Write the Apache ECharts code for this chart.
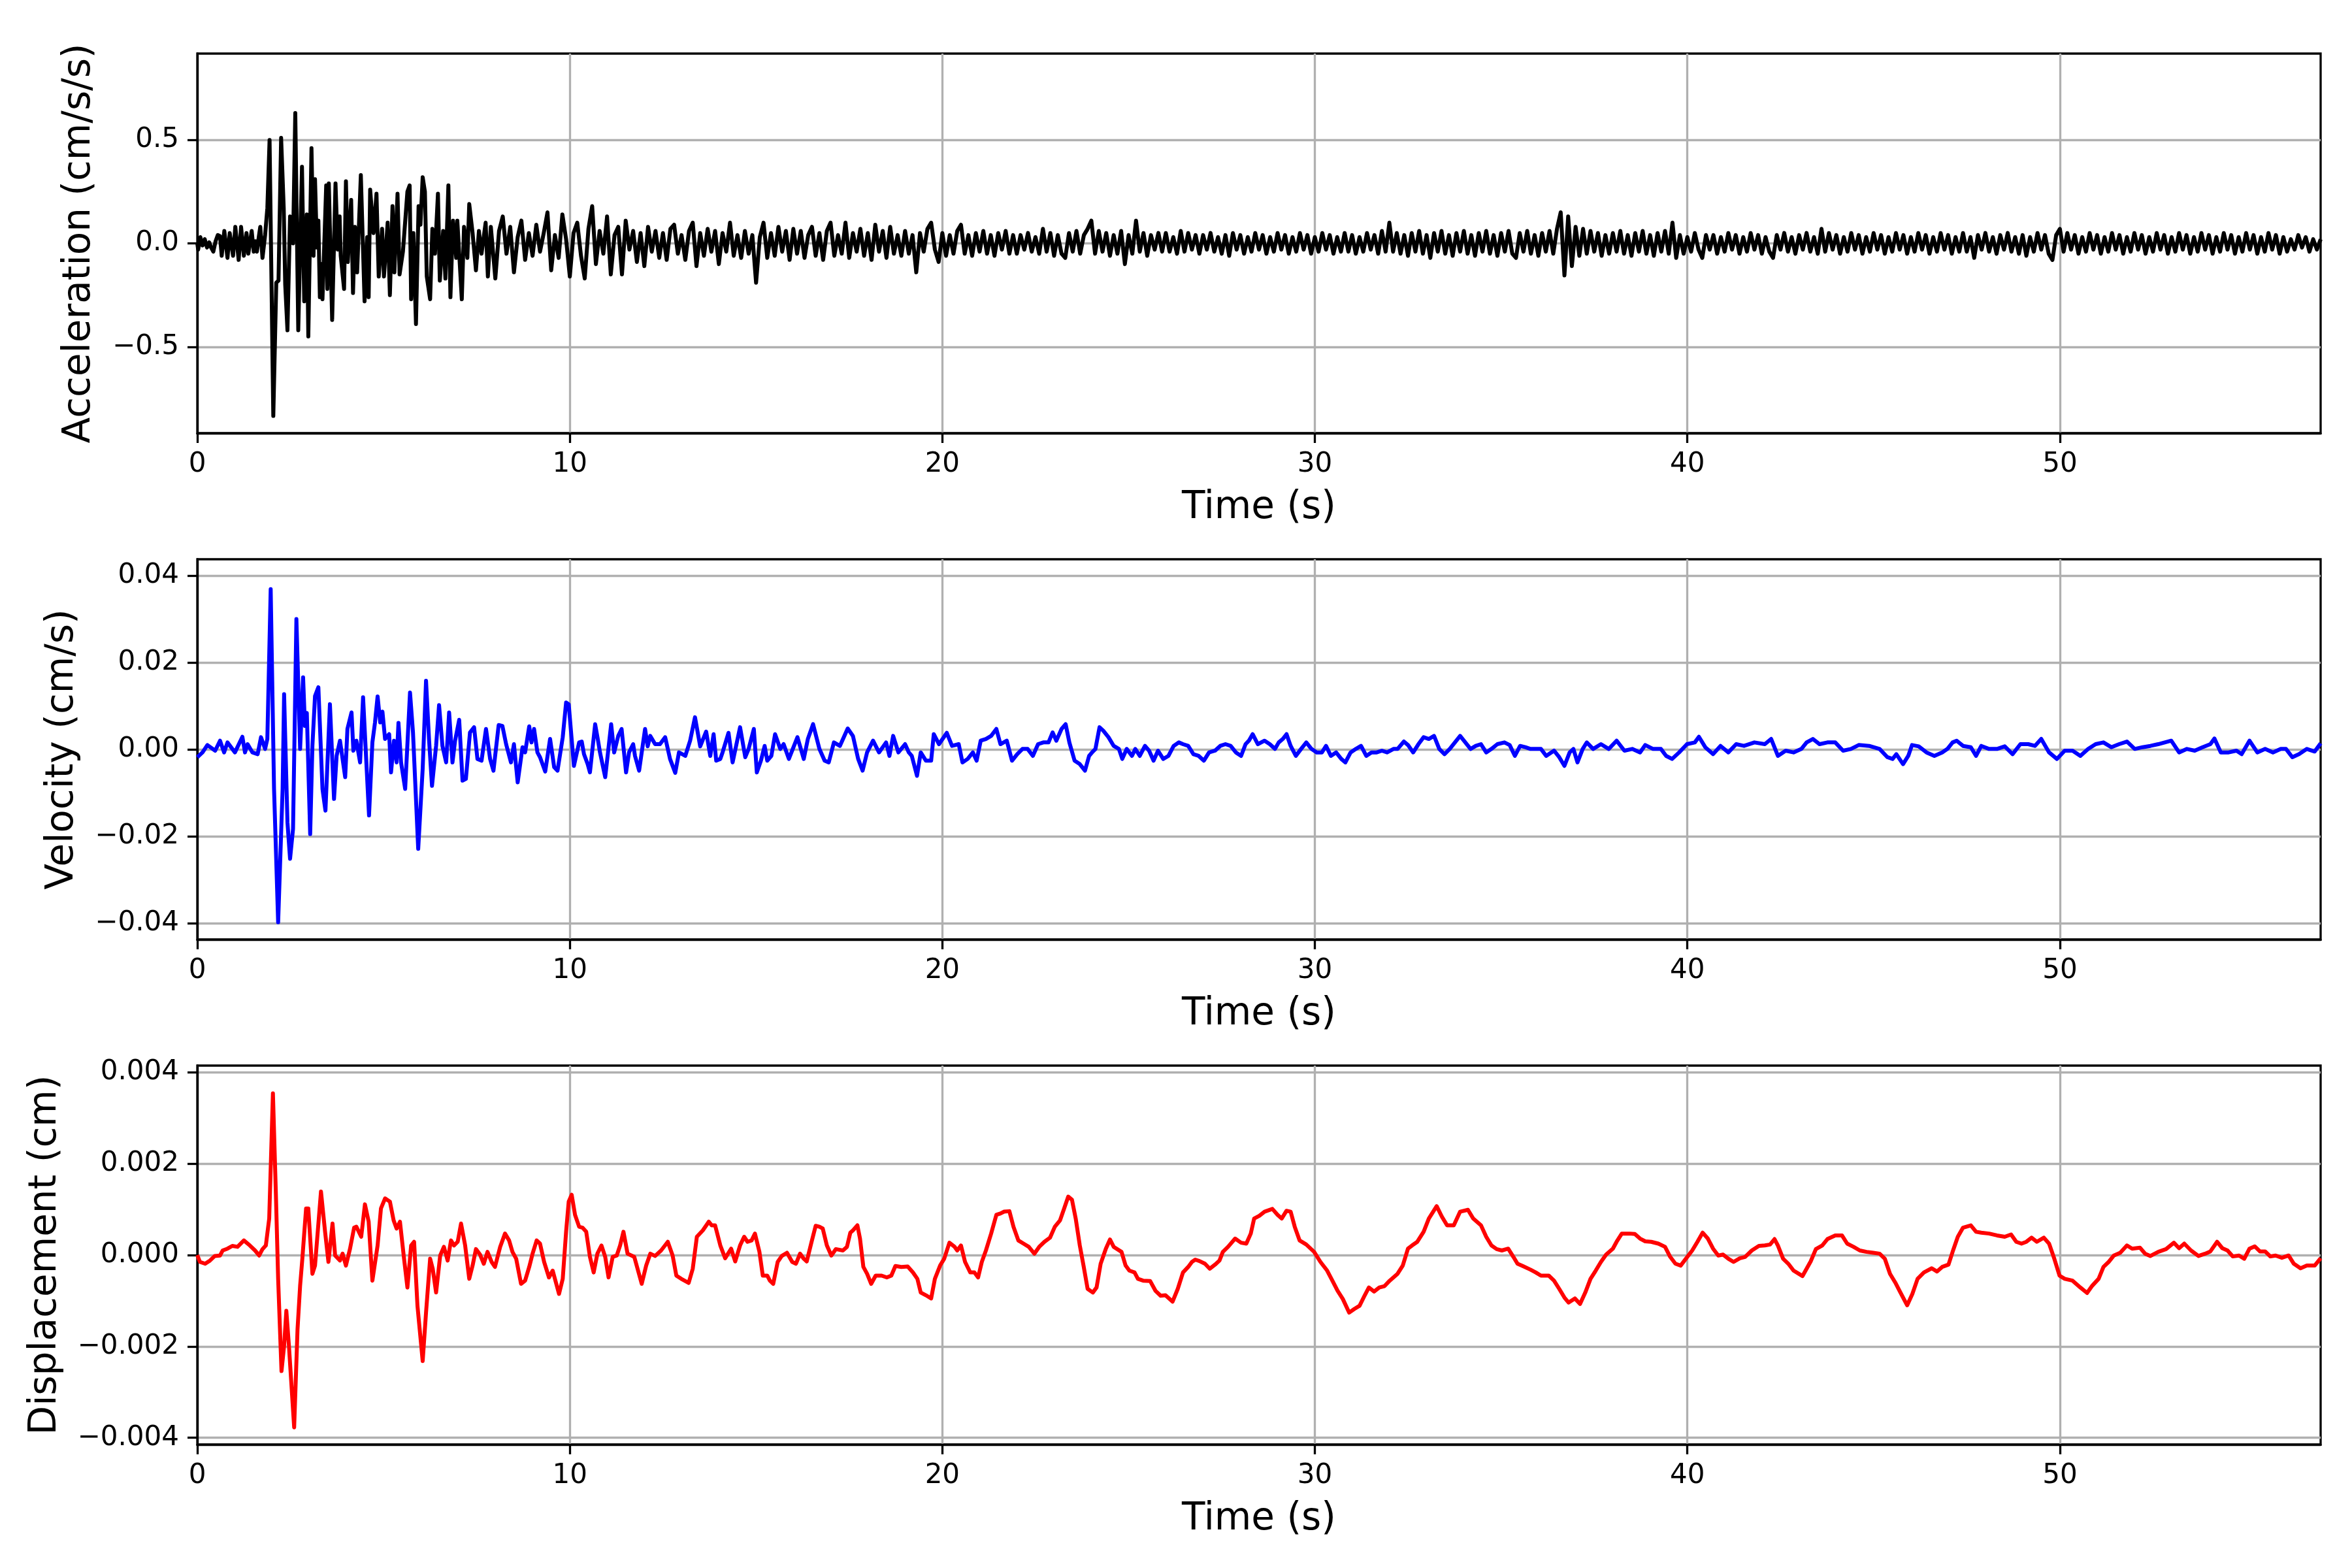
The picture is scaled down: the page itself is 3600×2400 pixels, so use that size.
<!DOCTYPE html>
<html><head><meta charset="utf-8">
<script src="https://cdn.jsdelivr.net/npm/echarts@6/dist/echarts.min.js"></script>
<style>html,body{margin:0;padding:0;background:#fff}#c{width:3600px;height:2400px}</style>
</head><body><div id="c"></div>
<script>
// ---------- tick labels ----------
const timeTicks = [0, 10, 20, 30, 40, 50];
const accelTicks = [-0.5, 0, 0.5];
const velTicks = [-0.04, -0.02, 0, 0.02, 0.04];
const dispTicks = [-0.004, -0.002, 0, 0.002, 0.004];

// ---------- acceleration (cm/s/s) ----------
// strong-motion part, [time s, value] read at the wiggle extremes
const accelEarly = [[0,0.0],[0.023,-0.03],[0.082,0.03],[0.14,-0.01],[0.20,0.02],[0.26,-0.02],[0.32,0.005],[0.37,-0.02],[0.43,-0.04],[0.49,0.01],[0.55,0.04],[0.61,0.035],[0.655,-0.06],[0.725,0.06],[0.81,-0.07],[0.87,0.05],[0.96,-0.06],[1.02,0.08],[1.11,-0.08],[1.175,0.08],[1.25,-0.06],[1.32,0.05],[1.37,-0.05],[1.46,0.06],[1.515,-0.04],[1.56,0.01],[1.60,-0.04],[1.65,0.03],[1.69,0.08],[1.75,-0.07],[1.82,0.04],[1.88,0.17],[1.94,0.50],[2.04,-0.834],[2.12,-0.19],[2.18,-0.18],[2.25,0.51],[2.32,0.17],[2.36,-0.20],[2.42,-0.42],[2.49,0.13],[2.57,0.0],[2.63,0.63],[2.71,-0.42],[2.81,0.37],[2.87,-0.28],[2.94,0.14],[2.98,-0.45],[3.065,0.46],[3.12,-0.06],[3.16,0.31],[3.21,-0.02],[3.25,0.11],[3.29,-0.26],[3.33,-0.10],[3.36,-0.27],[3.46,0.28],[3.49,-0.22],[3.53,0.29],[3.62,-0.37],[3.71,0.29],[3.77,-0.03],[3.82,0.13],[3.85,-0.06],[3.94,-0.22],[3.99,0.30],[4.04,-0.09],[4.13,0.21],[4.18,-0.24],[4.23,0.08],[4.29,-0.14],[4.39,0.33],[4.49,-0.28],[4.56,0.03],[4.60,-0.26],[4.64,0.26],[4.73,0.05],[4.81,0.24],[4.87,-0.16],[4.96,0.07],[5.01,-0.16],[5.11,0.10],[5.17,-0.25],[5.24,0.18],[5.29,-0.14],[5.375,0.24],[5.43,-0.15],[5.52,-0.04],[5.64,0.25],[5.70,0.28],[5.74,-0.27],[5.80,0.05],[5.87,-0.39],[5.94,0.18],[5.99,0.09],[6.05,0.32],[6.11,0.25],[6.16,-0.16],[6.25,-0.27],[6.31,0.07],[6.38,-0.05],[6.46,0.24],[6.51,-0.18],[6.60,0.06],[6.66,-0.17],[6.74,0.28],[6.795,-0.26],[6.865,0.11],[6.95,-0.07],[6.98,0.11],[7.10,-0.27],[7.16,0.08],[7.25,-0.07],[7.30,0.19],[7.39,0.05],[7.48,-0.13],[7.56,0.06],[7.63,-0.05],[7.74,0.10],[7.80,-0.16],[7.88,0.08]];
// coda, one value every 0.1 s from 8.0 s to 57.0 s
const accelTailStart = 8.0, accelTailStep = 0.1;
const accelTail = [
-0.17,0.06,0.13,-0.05,0.08,-0.14,0.03,0.11,-0.08,0.05,
-0.06,0.09,-0.04,0.05,0.15,-0.13,0.04,-0.07,0.14,0.02,
-0.16,0.05,0.10,-0.06,-0.17,0.07,0.18,-0.10,0.06,-0.05,
0.13,-0.15,0.04,0.08,-0.15,0.11,-0.03,0.06,-0.09,0.05,
-0.11,0.08,-0.04,0.06,-0.07,0.05,-0.08,0.07,0.09,-0.05,
0.04,-0.08,0.06,0.10,-0.11,0.05,-0.06,0.07,-0.04,0.06,
-0.10,0.05,-0.04,0.10,-0.06,0.04,-0.07,0.06,-0.05,0.04,
-0.19,0.03,0.10,-0.07,0.05,-0.06,0.08,-0.04,0.06,-0.08,
0.07,-0.05,0.06,-0.07,0.04,0.08,-0.06,0.05,-0.08,0.06,
0.10,-0.06,0.04,-0.05,0.10,-0.07,0.05,-0.04,0.07,-0.06,
0.05,-0.08,0.09,-0.04,0.06,-0.07,0.08,-0.05,0.04,-0.06,
0.06,-0.05,0.04,-0.14,0.05,-0.04,0.07,0.10,-0.03,-0.09,
0.05,-0.06,0.04,-0.05,0.06,0.09,-0.05,0.04,-0.06,0.05,
-0.04,0.06,-0.05,0.04,-0.06,0.05,-0.03,0.06,-0.05,0.04,
-0.05,0.04,-0.03,0.05,-0.04,0.03,-0.05,0.07,-0.04,0.05,
-0.06,0.04,-0.05,-0.07,0.05,-0.04,0.06,-0.05,0.04,0.07,
0.11,-0.05,0.06,-0.04,0.05,-0.06,0.04,-0.05,0.06,-0.10,
0.04,-0.05,0.11,-0.04,0.05,-0.06,0.04,-0.03,0.05,-0.04,
0.05,-0.04,0.03,-0.05,0.06,-0.04,0.05,-0.03,0.04,-0.05,
0.04,-0.03,0.05,-0.04,0.03,-0.05,0.04,-0.06,0.05,-0.03,
0.04,-0.05,0.03,-0.04,0.05,-0.03,0.04,-0.05,0.03,-0.04,
0.05,-0.03,0.04,-0.05,0.03,-0.04,0.05,-0.03,0.04,-0.05,
0.03,-0.04,0.05,-0.03,0.04,-0.05,0.03,-0.04,0.05,-0.04,
0.04,-0.05,0.03,-0.04,0.05,-0.03,0.04,-0.05,0.06,-0.04,
0.10,-0.04,0.05,-0.05,0.04,-0.06,0.05,-0.04,0.06,-0.05,
0.04,-0.07,0.05,-0.04,0.06,-0.05,0.04,-0.06,0.05,-0.04,
0.06,-0.05,0.04,-0.06,0.05,-0.04,0.06,-0.05,0.04,-0.06,
0.05,-0.04,0.06,-0.05,-0.07,0.05,-0.04,0.06,-0.05,0.04,
-0.06,0.05,-0.04,0.06,-0.05,0.07,0.15,-0.155,0.13,-0.11,
0.08,-0.06,0.07,-0.05,0.06,-0.04,0.05,-0.06,0.04,-0.05,
0.05,-0.04,0.06,-0.05,0.04,-0.06,0.05,-0.04,0.06,-0.05,
0.04,-0.06,0.05,-0.04,0.06,-0.05,0.10,-0.07,0.04,-0.05,
0.03,-0.04,0.05,-0.03,-0.07,0.04,-0.03,0.04,-0.05,0.03,
-0.04,0.05,-0.03,0.04,-0.05,0.03,-0.04,0.05,-0.03,0.04,
-0.05,0.03,-0.04,-0.07,0.04,-0.03,0.05,-0.04,0.03,-0.05,
0.04,-0.03,0.05,-0.04,0.03,-0.05,0.07,-0.04,0.05,-0.03,
0.04,-0.05,0.03,-0.04,0.05,-0.03,0.04,-0.05,0.03,-0.04,
0.05,-0.03,0.04,-0.05,0.03,-0.04,0.05,-0.03,0.04,-0.05,
0.03,-0.04,0.05,-0.03,0.04,-0.05,0.03,-0.04,0.05,-0.03,
0.04,-0.05,0.03,-0.04,0.05,-0.04,0.03,-0.07,0.04,-0.03,
0.05,-0.04,0.03,-0.05,0.04,-0.03,0.05,-0.04,0.03,-0.05,
0.04,-0.06,0.03,-0.04,0.05,-0.03,0.04,-0.05,-0.08,0.04,
0.07,-0.04,0.05,-0.03,0.04,-0.05,0.03,-0.04,0.05,-0.03,
0.04,-0.05,0.03,-0.04,0.05,-0.03,0.04,-0.05,0.03,-0.04,
0.05,-0.03,0.04,-0.05,0.03,-0.04,0.05,-0.03,0.04,-0.05,
0.03,-0.04,0.05,-0.03,0.04,-0.05,0.03,-0.04,0.05,-0.03,
0.04,-0.05,0.03,-0.04,0.05,-0.03,0.04,-0.05,0.03,-0.04,
0.05,-0.03,0.04,-0.05,0.03,-0.04,0.05,-0.03,0.04,-0.05,
0.03,-0.04,0.02,-0.03,0.04,-0.02,0.03,-0.04,0.02,-0.03,
0.02];

// ---------- velocity (cm/s), [time s, value] ----------
const velocity = [[0,-0.0018],[0.14,-0.0007],[0.27,0.0010],[0.48,-0.0003],[0.61,0.0020],[0.72,-0.0007],[0.81,0.0016],[1.01,-0.0007],[1.21,0.0029],[1.28,-0.0007],[1.35,0.0012],[1.48,-0.0007],[1.62,-0.0011],[1.71,0.0028],[1.82,0.0001],[1.88,0.0024],[1.97,0.0369],[2.06,-0.0091],[2.17,-0.0398],[2.29,-0.0091],[2.33,0.0127],[2.42,-0.0168],[2.49,-0.0252],[2.57,-0.0183],[2.66,0.0300],[2.76,0.0001],[2.84,0.0166],[2.89,0.0054],[2.94,0.0084],[3.03,-0.0195],[3.09,0.0008],[3.16,0.0123],[3.25,0.0143],[3.36,-0.0091],[3.44,-0.0141],[3.56,0.0104],[3.67,-0.0114],[3.74,-0.0015],[3.83,0.0020],[3.97,-0.0064],[4.03,0.0047],[4.14,0.0085],[4.19,-0.0003],[4.27,0.0020],[4.37,-0.0030],[4.45,0.0120],[4.61,-0.0152],[4.70,0.0016],[4.77,0.0062],[4.84,0.0122],[4.91,0.0062],[4.97,0.0087],[5.04,0.0024],[5.15,0.0035],[5.20,-0.0053],[5.28,0.0020],[5.35,-0.0030],[5.40,0.0061],[5.47,-0.0030],[5.58,-0.0091],[5.71,0.0131],[5.79,0.0039],[5.93,-0.0229],[6.05,-0.0045],[6.14,0.0158],[6.22,0.0024],[6.30,-0.0084],[6.41,0.0008],[6.49,0.0102],[6.58,0.0008],[6.68,-0.0030],[6.76,0.0085],[6.85,-0.0030],[6.92,0.0020],[7.03,0.0068],[7.12,-0.0072],[7.21,-0.0068],[7.32,0.0039],[7.43,0.0051],[7.52,-0.0022],[7.63,-0.0026],[7.75,0.0047],[7.86,-0.0022],[7.95,-0.0049],[8.09,0.0056],[8.19,0.0054],[8.29,0.0012],[8.42,-0.0030],[8.50,0.0012],[8.60,-0.0076],[8.73,0.0005],[8.80,-0.0007],[8.91,0.0053],[8.97,0.0016],[9.04,0.0047],[9.13,-0.0007],[9.20,-0.0018],[9.34,-0.0051],[9.47,0.0024],[9.58,-0.0041],[9.67,-0.0049],[9.81,0.0028],[9.90,0.0108],[9.97,0.0104],[10.11,-0.0038],[10.25,0.0016],[10.32,0.0018],[10.38,-0.0011],[10.48,-0.0034],[10.54,-0.0053],[10.68,0.0058],[10.75,0.0024],[10.81,-0.0007],[10.95,-0.0064],[11.11,0.0058],[11.19,-0.0007],[11.30,0.0031],[11.39,0.0047],[11.51,-0.0053],[11.59,-0.0007],[11.70,0.0012],[11.75,-0.0015],[11.86,-0.0049],[12.02,0.0047],[12.09,0.0007],[12.16,0.0031],[12.29,0.0012],[12.42,0.0012],[12.56,0.0028],[12.69,-0.0022],[12.83,-0.0054],[12.93,-0.0007],[13.10,-0.0015],[13.23,0.0020],[13.36,0.0074],[13.50,0.0007],[13.66,0.0041],[13.77,-0.0015],[13.86,0.0035],[13.93,-0.0026],[14.04,-0.0022],[14.10,-0.0007],[14.26,0.0038],[14.37,-0.0030],[14.57,0.0051],[14.71,-0.0018],[14.80,0.0001],[14.94,0.0047],[15.02,-0.0053],[15.13,-0.0026],[15.23,0.0008],[15.30,-0.0026],[15.41,-0.0015],[15.51,0.0035],[15.65,0.0001],[15.74,0.0012],[15.88,-0.0022],[16.11,0.0028],[16.28,-0.0022],[16.39,0.0024],[16.53,0.0058],[16.70,0.0001],[16.84,-0.0026],[16.95,-0.0030],[17.09,0.0016],[17.25,0.0008],[17.46,0.0048],[17.60,0.0031],[17.74,-0.0022],[17.86,-0.0049],[17.98,-0.0007],[18.14,0.0020],[18.30,-0.0007],[18.49,0.0016],[18.58,-0.0015],[18.68,0.0031],[18.82,-0.0007],[19.00,0.0012],[19.10,-0.0007],[19.18,-0.0015],[19.32,-0.0061],[19.42,-0.0007],[19.56,-0.0026],[19.70,-0.0026],[19.77,0.0035],[19.91,0.0012],[20.12,0.0038],[20.26,0.0008],[20.44,0.0012],[20.54,-0.0030],[20.68,-0.0022],[20.82,-0.0007],[20.92,-0.0026],[21.03,0.0020],[21.17,0.0024],[21.31,0.0031],[21.45,0.0047],[21.56,0.0012],[21.73,0.0020],[21.87,-0.0026],[22.01,-0.0011],[22.15,0.0001],[22.29,0.0001],[22.43,-0.0015],[22.57,0.0012],[22.71,0.0016],[22.85,0.0016],[22.96,0.0039],[23.06,0.0020],[23.20,0.0047],[23.31,0.0058],[23.41,0.0016],[23.55,-0.0026],[23.69,-0.0034],[23.83,-0.0049],[23.94,-0.0015],[24.04,-0.0005],[24.11,0.0001],[24.22,0.0051],[24.32,0.0043],[24.46,0.0028],[24.60,0.0008],[24.74,0.0001],[24.83,-0.0022],[24.95,0.0001],[25.09,-0.0015],[25.18,0.0001],[25.30,-0.0015],[25.44,0.0008],[25.55,-0.0003],[25.67,-0.0026],[25.79,-0.0003],[25.93,-0.0022],[26.07,-0.0015],[26.21,0.0008],[26.35,0.0016],[26.46,0.0012],[26.60,0.0008],[26.74,-0.0011],[26.88,-0.0015],[27.02,-0.0026],[27.16,-0.0007],[27.32,-0.0003],[27.46,0.0008],[27.60,0.0012],[27.74,0.0008],[27.88,-0.0007],[28.02,-0.0015],[28.14,0.0012],[28.23,0.0020],[28.33,0.0035],[28.47,0.0012],[28.65,0.0020],[28.79,0.0012],[28.93,0.0001],[29.03,0.0016],[29.14,0.0024],[29.24,0.0035],[29.35,0.0008],[29.49,-0.0015],[29.63,0.0001],[29.77,0.0016],[29.91,0.0001],[30.05,-0.0007],[30.19,-0.0007],[30.30,0.0008],[30.43,-0.0015],[30.57,-0.0007],[30.71,-0.0022],[30.82,-0.0030],[30.96,-0.0007],[31.10,0.0001],[31.24,0.0008],[31.38,-0.0015],[31.52,-0.0007],[31.66,-0.0007],[31.80,-0.0003],[31.94,-0.0007],[32.11,0.0001],[32.22,0.0001],[32.39,0.0018],[32.50,0.0010],[32.64,-0.0007],[32.78,0.0012],[32.92,0.0028],[33.06,0.0024],[33.20,0.0031],[33.34,0.0001],[33.48,-0.0011],[33.62,0.0001],[33.76,0.0016],[33.90,0.0031],[34.04,0.0016],[34.18,0.0001],[34.32,0.0008],[34.46,0.0012],[34.60,-0.0007],[34.74,0.0001],[34.90,0.0012],[35.09,0.0016],[35.23,0.0010],[35.37,-0.0015],[35.51,0.0008],[35.65,0.0005],[35.79,0.0001],[35.93,0.0001],[36.07,0.0001],[36.21,-0.0015],[36.42,-0.0003],[36.56,-0.0018],[36.70,-0.0038],[36.84,-0.0007],[36.94,0.0001],[37.05,-0.0030],[37.19,0.0001],[37.30,0.0016],[37.47,0.0001],[37.68,0.0012],[37.89,0.0001],[38.10,0.0020],[38.31,-0.0003],[38.52,0.0001],[38.73,-0.0007],[38.87,0.0010],[39.08,0.0001],[39.29,0.0001],[39.43,-0.0015],[39.59,-0.0022],[39.78,-0.0007],[39.99,0.0012],[40.20,0.0016],[40.31,0.0029],[40.48,0.0005],[40.69,-0.0011],[40.89,0.0008],[41.10,-0.0007],[41.31,0.0012],[41.52,0.0008],[41.80,0.0016],[42.08,0.0012],[42.25,0.0024],[42.43,-0.0015],[42.64,-0.0003],[42.85,-0.0007],[43.06,0.0001],[43.20,0.0016],[43.37,0.0024],[43.55,0.0012],[43.76,0.0016],[43.97,0.0016],[44.18,-0.0003],[44.39,0.0001],[44.60,0.0010],[44.88,0.0008],[45.16,0.0001],[45.37,-0.0018],[45.51,-0.0022],[45.61,-0.0011],[45.79,-0.0034],[45.93,-0.0015],[46.03,0.0010],[46.21,0.0007],[46.42,-0.0007],[46.63,-0.0015],[46.84,-0.0007],[46.98,0.0001],[47.12,0.0016],[47.23,0.0020],[47.40,0.0008],[47.61,0.0005],[47.75,-0.0015],[47.89,0.0008],[48.10,0.0001],[48.31,0.0001],[48.52,0.0007],[48.73,-0.0011],[48.94,0.0012],[49.15,0.0012],[49.33,0.0008],[49.50,0.0024],[49.71,-0.0007],[49.92,-0.0022],[50.13,-0.0003],[50.34,-0.0003],[50.55,-0.0015],[50.76,0.0001],[50.96,0.0012],[51.17,0.0016],[51.38,0.0005],[51.59,0.0012],[51.80,0.0018],[52.01,0.0001],[52.22,0.0005],[52.43,0.0008],[52.64,0.0012],[52.99,0.0020],[53.20,-0.0007],[53.41,0.0001],[53.62,-0.0003],[53.83,0.0005],[54.04,0.0012],[54.15,0.0025],[54.32,-0.0007],[54.53,-0.0007],[54.74,-0.0003],[54.88,-0.0011],[55.09,0.0020],[55.30,-0.0007],[55.51,0.0001],[55.72,-0.0007],[55.93,0.0001],[56.07,0.0001],[56.24,-0.0018],[56.42,-0.0011],[56.63,0.0001],[56.84,-0.0005],[57.0,0.0014]];

// ---------- displacement (cm), [time s, value] ----------
const displacement = [[0,0],[0.07,-0.15e-3],[0.21,-0.19e-3],[0.34,-0.12e-3],[0.47,-0.02e-3],[0.61,-0.01e-3],[0.68,0.10e-3],[0.81,0.14e-3],[0.94,0.20e-3],[1.08,0.18e-3],[1.25,0.32e-3],[1.41,0.21e-3],[1.55,0.10e-3],[1.66,-0.01e-3],[1.75,0.13e-3],[1.84,0.21e-3],[1.93,0.80e-3],[2.03,3.54e-3],[2.11,1.32e-3],[2.17,-0.52e-3],[2.26,-2.54e-3],[2.33,-1.99e-3],[2.39,-1.22e-3],[2.46,-1.99e-3],[2.60,-3.77e-3],[2.69,-1.63e-3],[2.76,-0.67e-3],[2.82,-0.08e-3],[2.92,1.02e-3],[2.98,1.02e-3],[3.09,-0.41e-3],[3.16,-0.23e-3],[3.32,1.39e-3],[3.43,0.51e-3],[3.52,-0.15e-3],[3.63,0.69e-3],[3.70,-0.01e-3],[3.83,-0.12e-3],[3.90,0.03e-3],[3.99,-0.23e-3],[4.10,0.14e-3],[4.21,0.60e-3],[4.27,0.62e-3],[4.40,0.40e-3],[4.50,1.11e-3],[4.60,0.73e-3],[4.70,-0.56e-3],[4.84,0.21e-3],[4.93,1.02e-3],[5.04,1.24e-3],[5.17,1.17e-3],[5.27,0.76e-3],[5.35,0.58e-3],[5.44,0.73e-3],[5.55,-0.08e-3],[5.64,-0.71e-3],[5.74,0.21e-3],[5.82,0.29e-3],[5.91,-1.11e-3],[6.05,-2.32e-3],[6.14,-1.26e-3],[6.25,-0.08e-3],[6.32,-0.30e-3],[6.41,-0.82e-3],[6.52,-0.01e-3],[6.62,0.18e-3],[6.72,-0.12e-3],[6.81,0.32e-3],[6.89,0.21e-3],[6.99,0.29e-3],[7.08,0.69e-3],[7.19,0.21e-3],[7.30,-0.52e-3],[7.39,-0.23e-3],[7.48,0.13e-3],[7.59,0.01e-3],[7.69,-0.19e-3],[7.79,0.07e-3],[7.90,-0.15e-3],[7.99,-0.26e-3],[8.13,0.18e-3],[8.26,0.47e-3],[8.37,0.32e-3],[8.46,0.07e-3],[8.56,-0.08e-3],[8.69,-0.63e-3],[8.80,-0.56e-3],[8.91,-0.26e-3],[9.00,0.03e-3],[9.11,0.32e-3],[9.20,0.25e-3],[9.31,-0.15e-3],[9.44,-0.49e-3],[9.54,-0.34e-3],[9.71,-0.85e-3],[9.81,-0.52e-3],[9.90,0.51e-3],[9.97,1.17e-3],[10.05,1.32e-3],[10.14,0.88e-3],[10.25,0.62e-3],[10.34,0.60e-3],[10.44,0.51e-3],[10.54,-0.04e-3],[10.64,-0.38e-3],[10.74,0.03e-3],[10.85,0.21e-3],[10.95,-0.04e-3],[11.04,-0.49e-3],[11.15,-0.04e-3],[11.26,-0.01e-3],[11.35,0.21e-3],[11.44,0.51e-3],[11.55,0.03e-3],[11.73,-0.04e-3],[11.93,-0.63e-3],[12.05,-0.23e-3],[12.16,0.03e-3],[12.29,-0.02e-3],[12.45,0.10e-3],[12.63,0.29e-3],[12.76,-0.01e-3],[12.86,-0.45e-3],[12.99,-0.52e-3],[13.19,-0.61e-3],[13.30,-0.30e-3],[13.41,0.40e-3],[13.57,0.54e-3],[13.73,0.73e-3],[13.81,0.65e-3],[13.90,0.65e-3],[14.04,0.21e-3],[14.17,-0.07e-3],[14.33,0.14e-3],[14.44,-0.14e-3],[14.57,0.21e-3],[14.68,0.40e-3],[14.77,0.29e-3],[14.88,0.32e-3],[14.97,0.47e-3],[15.09,0.07e-3],[15.18,-0.45e-3],[15.30,-0.45e-3],[15.37,-0.56e-3],[15.46,-0.63e-3],[15.58,-0.15e-3],[15.69,-0.02e-3],[15.83,0.05e-3],[15.97,-0.15e-3],[16.07,-0.19e-3],[16.18,0.03e-3],[16.28,-0.08e-3],[16.36,-0.14e-3],[16.49,0.29e-3],[16.60,0.64e-3],[16.70,0.62e-3],[16.79,0.58e-3],[16.90,0.21e-3],[17.02,-0.01e-3],[17.14,0.13e-3],[17.33,0.10e-3],[17.44,0.18e-3],[17.53,0.49e-3],[17.60,0.54e-3],[17.72,0.65e-3],[17.79,0.36e-3],[17.88,-0.26e-3],[17.98,-0.41e-3],[18.09,-0.63e-3],[18.21,-0.45e-3],[18.37,-0.45e-3],[18.51,-0.49e-3],[18.63,-0.45e-3],[18.74,-0.24e-3],[18.90,-0.26e-3],[19.07,-0.25e-3],[19.21,-0.38e-3],[19.33,-0.52e-3],[19.42,-0.82e-3],[19.56,-0.88e-3],[19.70,-0.95e-3],[19.80,-0.52e-3],[19.94,-0.23e-3],[20.05,-0.08e-3],[20.19,0.27e-3],[20.33,0.18e-3],[20.40,0.10e-3],[20.50,0.21e-3],[20.61,-0.15e-3],[20.75,-0.38e-3],[20.86,-0.38e-3],[20.96,-0.49e-3],[21.06,-0.15e-3],[21.17,0.10e-3],[21.31,0.47e-3],[21.45,0.88e-3],[21.56,0.91e-3],[21.66,0.95e-3],[21.80,0.96e-3],[21.91,0.62e-3],[22.04,0.32e-3],[22.18,0.25e-3],[22.32,0.18e-3],[22.47,0.03e-3],[22.60,0.18e-3],[22.74,0.29e-3],[22.89,0.38e-3],[23.02,0.62e-3],[23.16,0.76e-3],[23.27,1.02e-3],[23.38,1.28e-3],[23.48,1.21e-3],[23.58,0.80e-3],[23.69,0.21e-3],[23.79,-0.23e-3],[23.90,-0.74e-3],[24.04,-0.82e-3],[24.14,-0.71e-3],[24.25,-0.19e-3],[24.39,0.14e-3],[24.50,0.34e-3],[24.60,0.18e-3],[24.81,0.07e-3],[24.92,-0.23e-3],[25.02,-0.34e-3],[25.16,-0.38e-3],[25.25,-0.52e-3],[25.39,-0.56e-3],[25.58,-0.57e-3],[25.72,-0.78e-3],[25.86,-0.89e-3],[25.99,-0.88e-3],[26.18,-1.02e-3],[26.32,-0.74e-3],[26.46,-0.38e-3],[26.60,-0.26e-3],[26.70,-0.15e-3],[26.79,-0.10e-3],[26.90,-0.13e-3],[27.05,-0.19e-3],[27.18,-0.30e-3],[27.32,-0.21e-3],[27.44,-0.12e-3],[27.53,0.07e-3],[27.67,0.18e-3],[27.86,0.36e-3],[28.02,0.27e-3],[28.16,0.25e-3],[28.28,0.47e-3],[28.37,0.80e-3],[28.51,0.86e-3],[28.65,0.95e-3],[28.86,1.01e-3],[29.00,0.88e-3],[29.11,0.80e-3],[29.24,0.97e-3],[29.35,0.95e-3],[29.46,0.62e-3],[29.59,0.32e-3],[29.77,0.23e-3],[29.98,0.07e-3],[30.15,-0.15e-3],[30.33,-0.34e-3],[30.47,-0.56e-3],[30.61,-0.78e-3],[30.75,-0.96e-3],[30.92,-1.26e-3],[31.06,-1.18e-3],[31.20,-1.11e-3],[31.34,-0.88e-3],[31.45,-0.71e-3],[31.59,-0.80e-3],[31.73,-0.71e-3],[31.87,-0.68e-3],[32.01,-0.56e-3],[32.22,-0.41e-3],[32.36,-0.23e-3],[32.50,0.14e-3],[32.61,0.21e-3],[32.75,0.29e-3],[32.92,0.51e-3],[33.06,0.80e-3],[33.27,1.07e-3],[33.41,0.84e-3],[33.55,0.65e-3],[33.73,0.65e-3],[33.90,0.95e-3],[34.11,0.99e-3],[34.25,0.80e-3],[34.46,0.65e-3],[34.60,0.40e-3],[34.74,0.21e-3],[34.88,0.13e-3],[35.02,0.10e-3],[35.19,0.14e-3],[35.33,-0.04e-3],[35.44,-0.19e-3],[35.58,-0.24e-3],[35.79,-0.32e-3],[35.93,-0.38e-3],[36.07,-0.45e-3],[36.28,-0.45e-3],[36.42,-0.56e-3],[36.56,-0.74e-3],[36.70,-0.93e-3],[36.81,-1.04e-3],[36.98,-0.95e-3],[37.12,-1.07e-3],[37.26,-0.82e-3],[37.40,-0.52e-3],[37.54,-0.34e-3],[37.68,-0.15e-3],[37.82,0.01e-3],[38.00,0.14e-3],[38.10,0.29e-3],[38.24,0.47e-3],[38.45,0.47e-3],[38.59,0.46e-3],[38.73,0.36e-3],[38.87,0.30e-3],[39.03,0.29e-3],[39.22,0.25e-3],[39.40,0.18e-3],[39.54,-0.04e-3],[39.68,-0.19e-3],[39.82,-0.23e-3],[39.96,-0.08e-3],[40.13,0.10e-3],[40.27,0.29e-3],[40.41,0.49e-3],[40.55,0.36e-3],[40.69,0.14e-3],[40.83,-0.01e-3],[40.96,0.01e-3],[41.10,-0.08e-3],[41.24,-0.15e-3],[41.41,-0.07e-3],[41.55,-0.04e-3],[41.73,0.10e-3],[41.92,0.20e-3],[42.08,0.21e-3],[42.22,0.23e-3],[42.34,0.35e-3],[42.43,0.21e-3],[42.57,-0.08e-3],[42.71,-0.19e-3],[42.85,-0.34e-3],[42.99,-0.41e-3],[43.09,-0.46e-3],[43.20,-0.30e-3],[43.31,-0.14e-3],[43.45,0.13e-3],[43.62,0.21e-3],[43.76,0.35e-3],[43.97,0.43e-3],[44.15,0.43e-3],[44.29,0.25e-3],[44.46,0.18e-3],[44.63,0.10e-3],[44.81,0.07e-3],[44.99,0.05e-3],[45.16,0.03e-3],[45.30,-0.08e-3],[45.44,-0.41e-3],[45.58,-0.60e-3],[45.72,-0.82e-3],[45.90,-1.10e-3],[46.04,-0.85e-3],[46.18,-0.52e-3],[46.35,-0.38e-3],[46.56,-0.29e-3],[46.70,-0.36e-3],[46.84,-0.26e-3],[47.01,-0.21e-3],[47.12,0.07e-3],[47.26,0.40e-3],[47.40,0.60e-3],[47.61,0.65e-3],[47.75,0.51e-3],[47.89,0.49e-3],[48.10,0.47e-3],[48.31,0.43e-3],[48.52,0.40e-3],[48.69,0.45e-3],[48.83,0.29e-3],[48.97,0.25e-3],[49.10,0.29e-3],[49.24,0.38e-3],[49.38,0.29e-3],[49.57,0.38e-3],[49.71,0.25e-3],[49.85,-0.08e-3],[49.99,-0.45e-3],[50.13,-0.52e-3],[50.34,-0.56e-3],[50.55,-0.71e-3],[50.73,-0.83e-3],[50.87,-0.67e-3],[51.04,-0.52e-3],[51.17,-0.26e-3],[51.31,-0.15e-3],[51.45,-0.01e-3],[51.62,0.05e-3],[51.80,0.21e-3],[51.94,0.14e-3],[52.15,0.16e-3],[52.29,0.03e-3],[52.43,-0.02e-3],[52.64,0.07e-3],[52.85,0.13e-3],[53.06,0.27e-3],[53.20,0.15e-3],[53.34,0.25e-3],[53.52,0.10e-3],[53.72,-0.02e-3],[53.90,0.03e-3],[54.04,0.08e-3],[54.22,0.29e-3],[54.36,0.15e-3],[54.50,0.10e-3],[54.64,-0.03e-3],[54.81,-0.01e-3],[54.95,-0.08e-3],[55.09,0.14e-3],[55.23,0.19e-3],[55.37,0.08e-3],[55.51,0.08e-3],[55.65,-0.03e-3],[55.79,-0.01e-3],[55.96,-0.06e-3],[56.14,-0.01e-3],[56.28,-0.19e-3],[56.46,-0.29e-3],[56.63,-0.23e-3],[56.84,-0.23e-3],[57.0,-0.07e-3]];

// ---------- build ----------
const acceleration = accelEarly.concat(accelTail.map((v, i) => [+(accelTailStart + i * accelTailStep).toFixed(2), v]));
const tEnd = acceleration[acceleration.length - 1][0];
const lim = d => 1.1 * Math.max(...d.map(p => Math.abs(p[1])));

const FONT = 'DejaVu Sans';
const grids = [
  { left: 302, right: 48, top: 82, height: 581 },
  { left: 302, right: 48, top: 856, height: 582 },
  { left: 302, right: 48, top: 1631, height: 580 }
].map(g => Object.assign(g, { show: true, borderColor: '#000', borderWidth: 3.3, backgroundColor: 'transparent' }));

const tickStyle = { show: true, length: 15, inside: false, lineStyle: { color: '#000', width: 3.3 } };
const gridStyle = { show: true, lineStyle: { color: '#b0b0b0', width: 3.3, type: 'solid' } };
const fmt = dec => v => (v < -1e-12 ? '\u2212' : '') + Math.abs(v).toFixed(dec);

const xAxes = [0, 1, 2].map(i => ({
  gridIndex: i, type: 'value', min: 0, max: tEnd, interval: 10,
  name: 'Time (s)', nameLocation: 'middle', nameGap: 86,
  nameTextStyle: { fontSize: 58, fontFamily: FONT, color: '#000' },
  axisLine: { show: true, onZero: false, lineStyle: { color: '#000', width: 3.3 } },
  axisTick: Object.assign({ customValues: timeTicks }, tickStyle),
  axisLabel: { customValues: timeTicks, fontSize: 42, fontFamily: FONT, color: '#000', margin: 27 },
  splitLine: Object.assign({ customValues: timeTicks }, gridStyle)
}));

const yDefs = [
  { name: 'Acceleration (cm/s/s)', ticks: accelTicks, lim: lim(acceleration), dec: 1, gap: 151 },
  { name: 'Velocity (cm/s)', ticks: velTicks, lim: lim(velocity), dec: 2, gap: 177 },
  { name: 'Displacement (cm)', ticks: dispTicks, lim: lim(displacement), dec: 3, gap: 203 }
];
const yAxes = yDefs.map((d, i) => ({
  gridIndex: i, type: 'value', min: -d.lim, max: d.lim,
  name: d.name, nameLocation: 'middle', nameGap: d.gap,
  nameTextStyle: { fontSize: 58, fontFamily: FONT, color: '#000' },
  axisLine: { show: true, lineStyle: { color: '#000', width: 3.3 } },
  axisTick: Object.assign({ customValues: d.ticks }, tickStyle),
  axisLabel: { customValues: d.ticks, fontSize: 42, fontFamily: FONT, color: '#000', margin: 28, formatter: fmt(d.dec) },
  splitLine: Object.assign({ customValues: d.ticks }, gridStyle)
}));

const mk = (data, i, color) => ({
  type: 'line', xAxisIndex: i, yAxisIndex: i, data: data,
  showSymbol: false, symbol: 'none', silent: true, z: 5,
  lineStyle: { color: color, width: 6, join: 'round' }, emphasis: { disabled: true }
});

const chart = echarts.init(document.getElementById('c'), null, { renderer: 'canvas', width: 3600, height: 2400 });
chart.setOption({
  animation: false,
  backgroundColor: '#ffffff',
  grid: grids,
  xAxis: xAxes,
  yAxis: yAxes,
  series: [mk(acceleration, 0, '#000000'), mk(velocity, 1, '#0000ff'), mk(displacement, 2, '#ff0000')]
});
</script></body></html>
